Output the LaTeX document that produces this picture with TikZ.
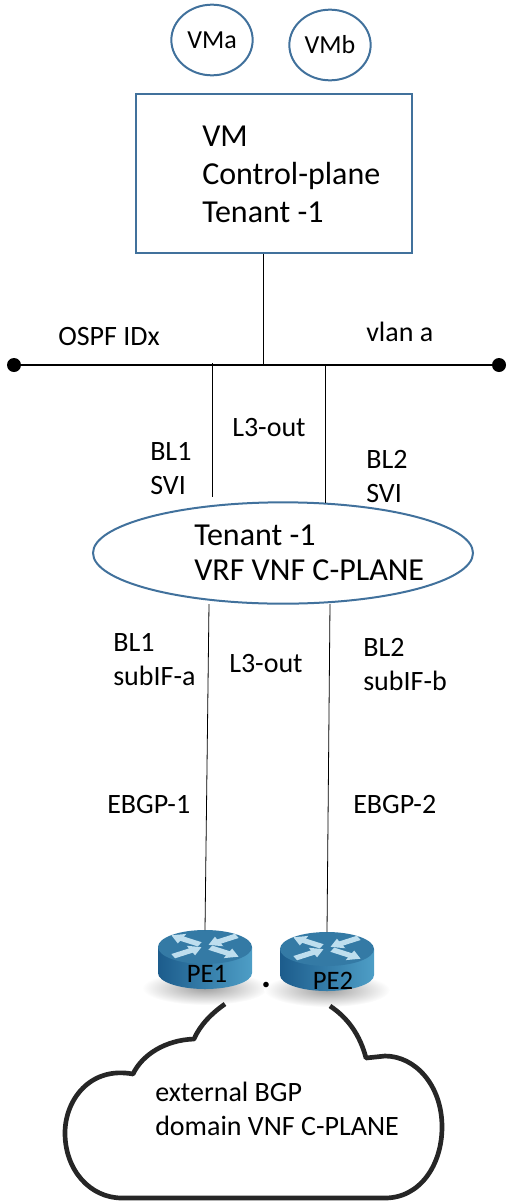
\documentclass[tikz,border=0pt]{standalone}
\usepackage{fontspec}
\setmainfont{Carlito}
\usetikzlibrary{calc,shapes.geometric}
\definecolor{boxblue}{RGB}{65,113,156}
\definecolor{routerdark}{RGB}{28,92,140}
\definecolor{routerlight}{RGB}{78,158,198}
\definecolor{routertop}{RGB}{52,122,165}
\definecolor{routerarrow}{RGB}{190,222,238}
\tikzset{
  vmnode/.style={draw=boxblue, line width=1.5pt, ellipse, inner sep=0pt, minimum width=61pt, minimum height=53pt, font=\fontsize{19.5}{22}\selectfont},
  biglabel/.style={anchor=west, align=left, inner sep=0pt, font=\fontsize{24}{28.5}\selectfont},
  smalllabel/.style={anchor=west, align=left, inner sep=0pt, font=\fontsize{21}{25.5}\selectfont},
  routerlabel/.style={inner sep=0pt, font=\fontsize{20}{22}\selectfont},
  busdot/.style={circle, fill=black, inner sep=0pt, minimum size=10.5pt},
  thinline/.style={black, line width=0.6pt}
}
\begin{document}
\begin{tikzpicture}[x=0.75pt,y=-0.75pt]
\useasboundingbox (0,0) rectangle (513,1203);

% VMs and control plane box
\node[vmnode] (vma) at (212,40) {VMa};
\node[vmnode] (vmb) at (330,45) {VMb};
\node[draw=boxblue, line width=1.5pt, minimum width=207pt, minimum height=119pt] (vmbox) at (274,173.5) {};
\node[biglabel] (vmtext) at (202,174) {VM\\Control-plane\\Tenant -1};

% bus
\node[busdot] (busl) at (14,365) {};
\node[busdot] (busr) at (499,365) {};
\draw[black, line width=1.7pt] (busl) -- (busr);
\coordinate (busm) at (263,365);
\coordinate (bus1) at (212,363);
\coordinate (bus2) at (325,365);
\draw[thinline] (vmbox.south -| busm) -- (busm);
\node[smalllabel] (ospf) at (58,337) {OSPF IDx};
\node[smalllabel] (vlan) at (366,332) {vlan a};

% tenant vrf
\node[draw=boxblue, line width=1.5pt, ellipse, inner sep=0pt, minimum width=285pt, minimum height=76pt] (vrf) at (283,553) {};
\node[biglabel, font=\fontsize{24}{26.5}\selectfont] (vrftext) at (194,553) {Tenant -1\\VRF VNF C-PLANE};
\coordinate (vrf1t) at (212,497);
\coordinate (vrf2t) at (325,503);
\coordinate (vrf1b) at (209,604);
\coordinate (vrf2b) at (330,604);
\draw[thinline] (bus1) -- (vrf1t);
\draw[thinline] (bus2) -- (vrf2t);
\node[smalllabel] (l3a) at (232,428) {L3-out};
\node[smalllabel] (bl1a) at (150,469) {BL1\\SVI};
\node[smalllabel] (bl2a) at (366,477) {BL2\\SVI};

% routers
\foreach \rx/\ry/\rname in {205/930/pea,327/932/peb} {
  \shade[inner color=gray!75, outer color=white] (\rx,\ry+58) ellipse[x radius=63, y radius=17];
  \shade[left color=routerdark, right color=routerlight] (\rx-47,\ry+17) -- (\rx-47,\ry+43) arc[start angle=180, end angle=0, x radius=47, y radius=16] -- (\rx+47,\ry+17) -- cycle;
  \fill[routertop] (\rx,\ry+17) ellipse[x radius=47, y radius=17];
  \begin{scope}[shift={(\rx,\ry+16)}, yscale=0.6]
    \foreach \ang in {28,208} \fill[routerarrow, rotate=\ang] (4,0) -- (16,-9) -- (16,-4) -- (36,-4) -- (36,4) -- (16,4) -- (16,9) -- cycle;
    \foreach \ang in {152,332} \fill[routerarrow, rotate=\ang] (38,0) -- (26,-9) -- (26,-4) -- (6,-4) -- (6,4) -- (26,4) -- (26,9) -- cycle;
  \end{scope}
  \coordinate (\rname) at (\rx,\ry);
}
\draw[thinline] (vrf1b) -- (pea);
\draw[thinline] (vrf2b) -- (peb);
\node[routerlabel] (pe1) at (207,974) {PE1};
\node[routerlabel] (pe2) at (333,981) {PE2};
\node[font=\bfseries\fontsize{28}{28}\selectfont, inner sep=0pt] (gapdot) at (266,985) {.};
\node[smalllabel] (bl1b) at (113,660) {BL1\\subIF-a};
\node[smalllabel] (l3b) at (229,664) {L3-out};
\node[smalllabel] (bl2b) at (363,665) {BL2\\subIF-b};
\node[smalllabel] (ebgpa) at (107,804) {EBGP-1};
\node[smalllabel] (ebgpb) at (353,804) {EBGP-2};

% cloud
\draw[black!85, line width=3.5pt, line join=round] (225,1004)
  .. controls (212,1013) and (200,1025) .. (194,1039)
  .. controls (165,1040) and (142,1055) .. (133,1074)
  .. controls (90,1066) and (65,1100) .. (65,1133)
  .. controls (65,1170) and (90,1198) .. (122,1198)
  -- (385,1198)
  .. controls (420,1198) and (442,1165) .. (442,1127)
  .. controls (442,1085) and (415,1056) .. (385,1056)
  -- (366,1058)
  .. controls (360,1035) and (348,1018) .. (330,1006);
\node[smalllabel] (cloudtext) at (155,1109) {external BGP\\domain VNF C-PLANE};

\end{tikzpicture}
\end{document}
